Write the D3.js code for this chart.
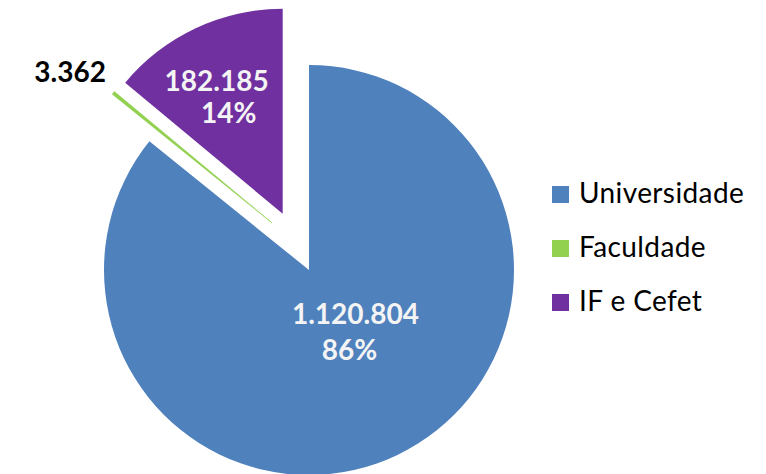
<!DOCTYPE html>
<html>
<head>
<meta charset="utf-8">
<script src="https://cdn.jsdelivr.net/npm/d3@7"></script>
<style>
  html, body { margin: 0; padding: 0; background: #fff; }
  svg { display: block; }
</style>
</head>
<body>
<svg id="chart" width="766" height="474"></svg>
<script>
// ---- data ----
const categories = ["Universidade", "Faculdade", "IF e Cefet"];
const values = [1120804, 3362, 182185];
const colors = ["#4F81BD", "#92D050", "#7030A0"];
// explosion (pixels) and optional direction shift (degrees) per slice
const explodeDist = [0, 60, 62];
const explodeShift = [0, 12.5, 0];
// label placement: fraction of radius from slice apex, whether inside
const labelRadius = [0.369, 1.23, 0.641];
const labelInside = [true, false, true];
const labelShift = [-9.5, -2.5, -2.1];
// horizontal nudge of the two label lines (value, percent) and line gap
const lineNudge = [[3, -3], [0, 0], [-6, 6]];
const lineGap = [36, 0, 32];

const W = 766, H = 474;
const cx = 309, cy = 270, R = 205;

const loc = d3.formatLocale({decimal: ",", thousands: ".", grouping: [3], currency: ["R$", ""]});
const fmtNum = loc.format(",d");
const fmtPct = d3.format(".0%");
const total = d3.sum(values);

const svg = d3.select("#chart");
const pie = d3.pie().sort(null).value(d => d)(values);
const arc = d3.arc().innerRadius(0).outerRadius(R);

const rad = a => a * Math.PI / 180;
function offset(i, d) {
  const a = (d.startAngle + d.endAngle) / 2 + rad(explodeShift[i]);
  return [explodeDist[i] * Math.sin(a), -explodeDist[i] * Math.cos(a)];
}

const g = svg.append("g").attr("transform", `translate(${cx},${cy})`);

g.selectAll("path.slice")
  .data(pie)
  .join("path")
  .attr("class", "slice")
  .attr("d", arc)
  .attr("fill", (d, i) => colors[i])
  .attr("stroke", (d, i) => i === 1 ? colors[i] : "none")
  .attr("stroke-width", (d, i) => i === 1 ? 0.6 : 0)
  .attr("transform", (d, i) => { const o = offset(i, d); return `translate(${o[0]},${o[1]})`; });

// labels
pie.forEach((d, i) => {
  const o = offset(i, d);
  const a = (d.startAngle + d.endAngle) / 2 + rad(labelShift[i]);
  const lr = labelRadius[i] * R;
  const x = o[0] + lr * Math.sin(a);
  const y = o[1] - lr * Math.cos(a);
  const t = g.append("text")
    .attr("text-anchor", "middle")
    .attr("font-family", "Lato, 'Open Sans', sans-serif")
    .attr("font-weight", "bold")
    .attr("font-size", 28)
    .attr("fill", labelInside[i] ? "#f4f4f4" : "#000000");
  if (labelInside[i]) {
    t.append("tspan").attr("x", x + lineNudge[i][0]).attr("y", y - lineGap[i] / 2 + 10).text(fmtNum(values[i]));
    t.append("tspan").attr("x", x + lineNudge[i][1]).attr("y", y + lineGap[i] / 2 + 10).text(fmtPct(values[i] / total));
  } else {
    t.append("tspan").attr("x", x).attr("y", y + 10).text(fmtNum(values[i]));
  }
});

// legend
const leg = svg.append("g").attr("transform", "translate(552,186)");
const items = leg.selectAll("g").data(categories).join("g")
  .attr("transform", (d, i) => `translate(0,${i * 54})`);
items.append("rect").attr("width", 17).attr("height", 17).attr("fill", (d, i) => colors[i]);
items.append("text")
  .attr("x", 27).attr("y", 17)
  .attr("font-family", "Lato, 'Open Sans', sans-serif")
  .attr("font-size", 28)
  .attr("letter-spacing", 0.4)
  .attr("fill", "#000")
  .text(d => d);
</script>
</body>
</html>
